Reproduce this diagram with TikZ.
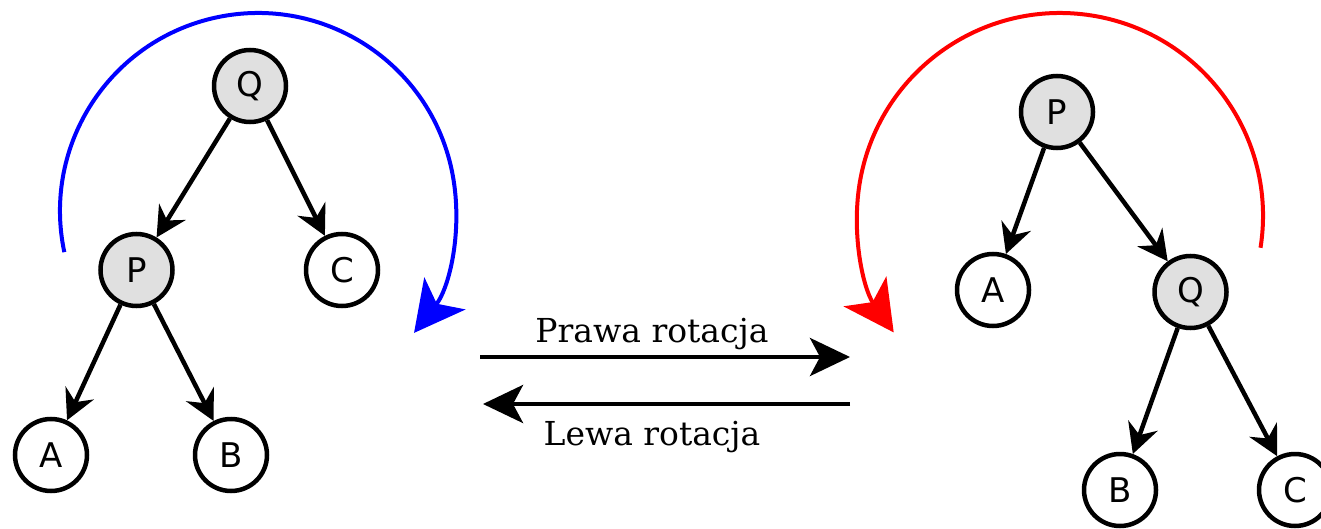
\documentclass[tikz,border=0pt]{standalone}
\usepackage{fontspec}
\usetikzlibrary{arrows.meta}
\newfontfamily\nodefont{DejaVu Sans}
\newfontfamily\labfont{DejaVu Serif}
\begin{document}
\begin{tikzpicture}[x=1pt,y=1pt,
  tnode/.style={circle,draw=black,line width=4.5pt,minimum size=72pt,inner sep=0pt,fill=white,font=\nodefont\fontsize{34}{36}\selectfont},
  gnode/.style={tnode,fill=black!12},
  edge/.style={line width=4.5pt,-{Stealth[length=30pt,width=31pt,inset=10pt]}},
  big/.style={line width=4.5pt,-{Stealth[length=40pt,width=38pt,inset=10pt]}},
  rot/.style={line width=4pt,-{Stealth[length=50pt,width=52pt,inset=13pt]}},
  lab/.style={font=\labfont\fontsize{33}{35}\selectfont,inner sep=0pt}]
\useasboundingbox (0,0) rectangle (1321,528);
% left tree
\node[gnode] (lQ) at (250,442) {Q};
\node[gnode] (lP) at (136.5,258) {P};
\node[tnode] (lC) at (342,258) {C};
\node[tnode] (lA) at (51,73) {A};
\node[tnode] (lB) at (231,73) {B};
\draw[edge] (lQ) -- (lP);
\draw[edge] (lQ) -- (lC);
\draw[edge] (lP) -- (lA);
\draw[edge] (lP) -- (lB);
% right tree
\node[gnode] (rP) at (1057,416) {P};
\node[tnode] (rA) at (993,238) {A};
\node[gnode] (rQ) at (1190.5,236) {Q};
\node[tnode] (rB) at (1120,38) {B};
\node[tnode] (rC) at (1295,38) {C};
\draw[edge] (rP) -- (rA);
\draw[edge] (rP) -- (rQ);
\draw[edge] (rQ) -- (rB);
\draw[edge] (rQ) -- (rC);
% rotation arcs
\coordinate (bc) at (258,317);
\coordinate (rc) at (1060,312);
\draw[rot,blue] (bc) ++(192:198) arc[start angle=192,end angle=-38,radius=198];
\draw[rot,red] (rc) ++(-9:203) arc[start angle=-9,end angle=215,radius=203];
% middle arrows
\coordinate (t1) at (480,171);
\coordinate (t2) at (850,171);
\coordinate (b1) at (850,124);
\coordinate (b2) at (483,124);
\draw[big] (t1) -- (t2);
\draw[big] (b1) -- (b2);
\node[lab,anchor=base] (pr) at (652,186) {Prawa rotacja};
\node[lab,anchor=base] (lr) at (652,83) {Lewa rotacja};
\end{tikzpicture}
\end{document}
